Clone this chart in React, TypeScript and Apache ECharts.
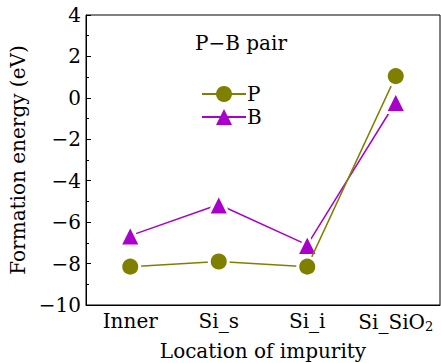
import React, { useEffect, useRef } from 'react';
import * as echarts from 'echarts';

const categories = ['Inner', 'Si_s', 'Si_i', 'Si_SiO2'];
const pValues = [-8.15, -7.9, -8.15, 1.05];
const bValues = [-6.65, -5.15, -7.1, -0.2];
const seriesNames = ['P', 'B'];
const yMin = -10;
const yMax = 4;
const yStep = 2;
const FONT = 'DejaVu Serif';
const FS = 20;

export default function App() {
  const ref = useRef<HTMLDivElement>(null);
  useEffect(() => {
    if (!ref.current) return;
    const chart = echarts.init(ref.current, null, { renderer: 'svg' });
    chart.setOption({
      animation: false,
      backgroundColor: '#fff',
      textStyle: { fontFamily: FONT, color: '#000' },
      grid: {
        left: 86, right: 1, top: 15, bottom: 58,
        containLabel: false,
        outerBoundsMode: 'none',
        show: true, borderColor: '#000', borderWidth: 1, backgroundColor: 'transparent',
      },
      graphic: [
        {
          type: 'text', left: 195, top: 33,
          style: { text: 'P\u2212B pair', fontSize: FS, fontFamily: FONT, fill: '#000' },
        },
      ],
      legend: {
        data: seriesNames,
        orient: 'vertical',
        left: 196, top: 79,
        itemWidth: 44, itemHeight: 20, itemGap: 3,
        textStyle: { fontSize: FS, fontFamily: FONT, color: '#000', padding: [0, 0, 0, -4] },
        itemStyle: { borderWidth: 0 },
      },
      xAxis: {
        type: 'category',
        data: categories,
        boundaryGap: true,
        axisLine: { onZero: false, lineStyle: { color: '#000', width: 1 } },
        axisTick: { alignWithLabel: true, inside: true, length: 5, lineStyle: { color: '#000' } },
        axisLabel: {
          interval: 0,
          margin: 6, fontSize: FS, fontFamily: FONT, color: '#000',
          formatter: (v: string) => (v === 'Si_SiO2' ? 'Si_SiO{sub|2}' : v),
          rich: { sub: { fontSize: 13, fontFamily: FONT, color: '#000', padding: [9, 0, 0, 0] } },
        },
        name: 'Location of impurity',
        nameLocation: 'middle',
        nameGap: 36,
        nameTextStyle: { fontSize: FS, fontFamily: FONT, color: '#000', verticalAlign: 'top' },
      },
      yAxis: {
        type: 'value',
        min: yMin, max: yMax, interval: yStep,
        axisLine: { show: true, onZero: false, lineStyle: { color: '#000', width: 1 } },
        axisTick: { show: true, inside: true, length: 5, lineStyle: { color: '#000' } },
        minorTick: { show: true, splitNumber: 2, length: 3, lineStyle: { color: '#000' } },
        splitLine: { show: false },
        axisLabel: {
          margin: 5, fontSize: FS, fontFamily: FONT, color: '#000',
          formatter: (v: number) => (v < 0 ? '\u2212' + Math.abs(v) : String(v)),
        },
        name: 'Formation energy (eV)',
        nameLocation: 'middle',
        nameGap: 40,
        nameTextStyle: { fontSize: FS, fontFamily: FONT, color: '#000' },
      },
      series: [
        {
          name: seriesNames[0], type: 'line', data: pValues,
          symbol: 'circle', symbolSize: 19,
          lineStyle: { color: '#808000', width: 1.5 },
          itemStyle: { color: '#808000', borderColor: '#fff', borderWidth: 3 },
          z: 3,
        },
        {
          name: seriesNames[1], type: 'line', data: bValues,
          symbol: 'triangle', symbolSize: 21,
          lineStyle: { color: '#aa00cc', width: 1.5 },
          itemStyle: { color: '#aa00cc', borderColor: '#fff', borderWidth: 3 },
          z: 2,
        },
      ],
    });
    return () => chart.dispose();
  }, []);
  return <div ref={ref} style={{ position: 'fixed', left: 0, top: 0, width: 441, height: 363 }} />;
}
